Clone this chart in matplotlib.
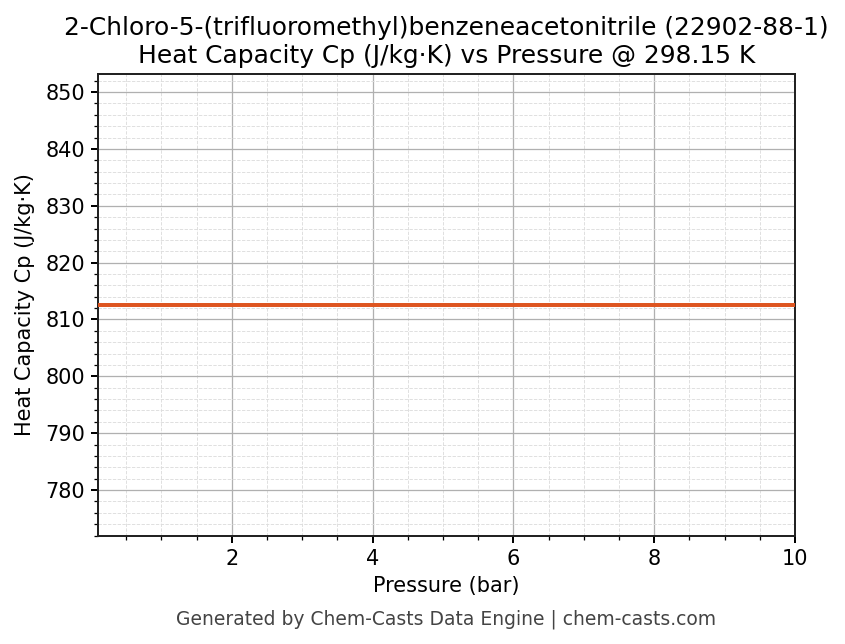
import numpy as np
import matplotlib
matplotlib.use("Agg")
import matplotlib.pyplot as plt
from matplotlib.ticker import AutoMinorLocator

pressure_bar = [0.1, 1.0, 2.0, 3.0, 4.0, 5.0, 6.0, 7.0, 8.0, 9.0, 10.0]
cp_values = [812.55] * len(pressure_bar)

title = "2-Chloro-5-(trifluoromethyl)benzeneacetonitrile (22902-88-1)\nHeat Capacity Cp (J/kg·K) vs Pressure @ 298.15 K"
xlabel = "Pressure (bar)"
ylabel = "Heat Capacity Cp (J/kg·K)"
footer = "Generated by Chem-Casts Data Engine | chem-casts.com"

fig = plt.figure(figsize=(845/130, 644/130), dpi=130)
ax = fig.add_axes([98/845, 1-536/644, (795-98)/845, (536-74)/644])

ax.plot(pressure_bar, cp_values, color="#DE5520", linewidth=2.2, zorder=3)

ax.set_xlim(min(pressure_bar), max(pressure_bar))
mean_v = float(np.mean(cp_values))
ax.set_ylim(mean_v * 0.95, mean_v * 1.05)

ax.xaxis.set_minor_locator(AutoMinorLocator(4))
ax.yaxis.set_minor_locator(AutoMinorLocator(5))
ax.grid(which="major", color="#b0b0b0", linewidth=0.7)
ax.grid(which="minor", color="#dddddd", linestyle="--", linewidth=0.5)
ax.set_axisbelow(True)

ax.tick_params(which="major", length=3.7, width=1.1, labelsize=11.6)
ax.tick_params(which="minor", length=2, width=0.7)
for s in ax.spines.values():
    s.set_linewidth(1.1)
    s.set_color("#222222")

ax.set_title(title, fontsize=13.8, pad=6)
ax.set_xlabel(xlabel, fontsize=11.6)
ax.set_ylabel(ylabel, fontsize=11.6, labelpad=5.6)

fig.text(446/845, 1-619/644, footer, ha="center", va="center", fontsize=10.4, color="#444444")

fig.savefig("out.png", dpi=130)
